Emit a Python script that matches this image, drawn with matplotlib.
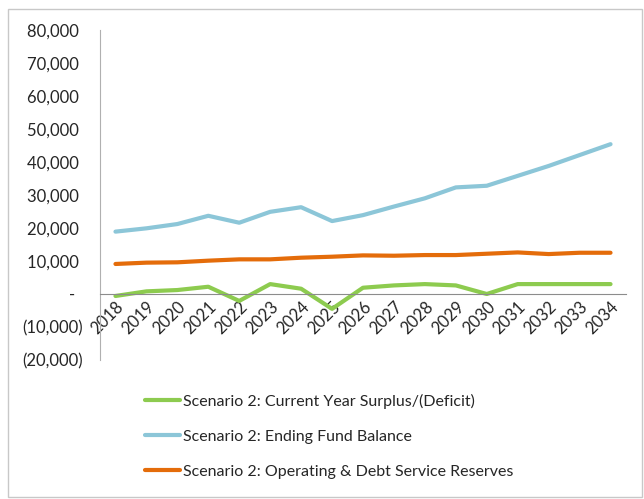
import matplotlib
matplotlib.use("Agg")
import matplotlib.pyplot as plt
from matplotlib.patches import Rectangle
from matplotlib.ticker import FuncFormatter, FixedLocator

years = [str(y) for y in range(2018, 2035)]
surplus = [-600, 800, 1200, 2200, -2100, 3000, 1600, -4500, 1900, 2600, 3000, 2600, 0, 3000, 3000, 3000, 3000]
ending_balance = [18900, 19900, 21200, 23700, 21600, 24900, 26300, 22100, 23900, 26500, 29000, 32300, 32800, 35800, 38800, 42100, 45400]
reserves = [9100, 9500, 9600, 10100, 10500, 10500, 11000, 11300, 11700, 11600, 11800, 11800, 12200, 12600, 12100, 12500, 12500]

labels = ["Scenario 2: Current Year Surplus/(Deficit)",
          "Scenario 2: Ending Fund Balance",
          "Scenario 2: Operating & Debt Service Reserves"]
colors = ["#8DCB4F", "#8CC6D8", "#E46C0A"]

plt.rcParams['font.family'] = ['Lato', 'DejaVu Sans']

W, H = 644, 499
fig = plt.figure(figsize=(W / 100, H / 100), dpi=100)
ax = fig.add_axes([100 / W, 1 - 360 / H, 526 / W, 330 / H])

x = list(range(len(years)))
for ser, lab, col in zip([surplus, ending_balance, reserves], labels, colors):
    ax.plot(x, ser, color=col, lw=3, label=lab, solid_capstyle='round')

ax.set_xlim(-0.5, len(years) - 0.5)
ax.set_ylim(-20000, 80000)
ax.yaxis.set_major_locator(FixedLocator(list(range(-20000, 80001, 10000))))


def fmt(v, pos):
    if v == 0:
        return "-  "
    if v < 0:
        return "({:,.0f})".format(-v)
    return "{:,.0f} ".format(v)


ax.yaxis.set_major_formatter(FuncFormatter(fmt))
ax.set_xticks(x)
ax.set_xticklabels(years)

for s in ['top', 'right']:
    ax.spines[s].set_visible(False)
ax.spines['bottom'].set_position(('data', 0))
ax.spines['bottom'].set_color('#8c8c8c')
ax.spines['left'].set_color('#b0b0b0')
ax.tick_params(axis='y', length=0, pad=12, labelsize=12, labelcolor='#262626')
ax.tick_params(axis='x', length=0, pad=3, labelsize=12, labelcolor='#262626', labelrotation=45)
for lbl in ax.get_xticklabels():
    lbl.set_ha('right')
    lbl.set_va('top')
    lbl.set_rotation_mode('anchor')

leg = fig.legend(loc='upper left', bbox_to_anchor=(145 / W, 1 - 394 / H),
                 frameon=False, fontsize=11.5, handlelength=2.2, handletextpad=0.15,
                 labelspacing=1.3, borderpad=0, borderaxespad=0)
for t in leg.get_texts():
    t.set_color('#262626')

fig.patches.append(Rectangle((8 / W, 2 / H), 634 / W, 488 / H, transform=fig.transFigure,
                             fill=False, edgecolor='#c8c8c8', lw=1))

fig.savefig("out.png", dpi=100)
